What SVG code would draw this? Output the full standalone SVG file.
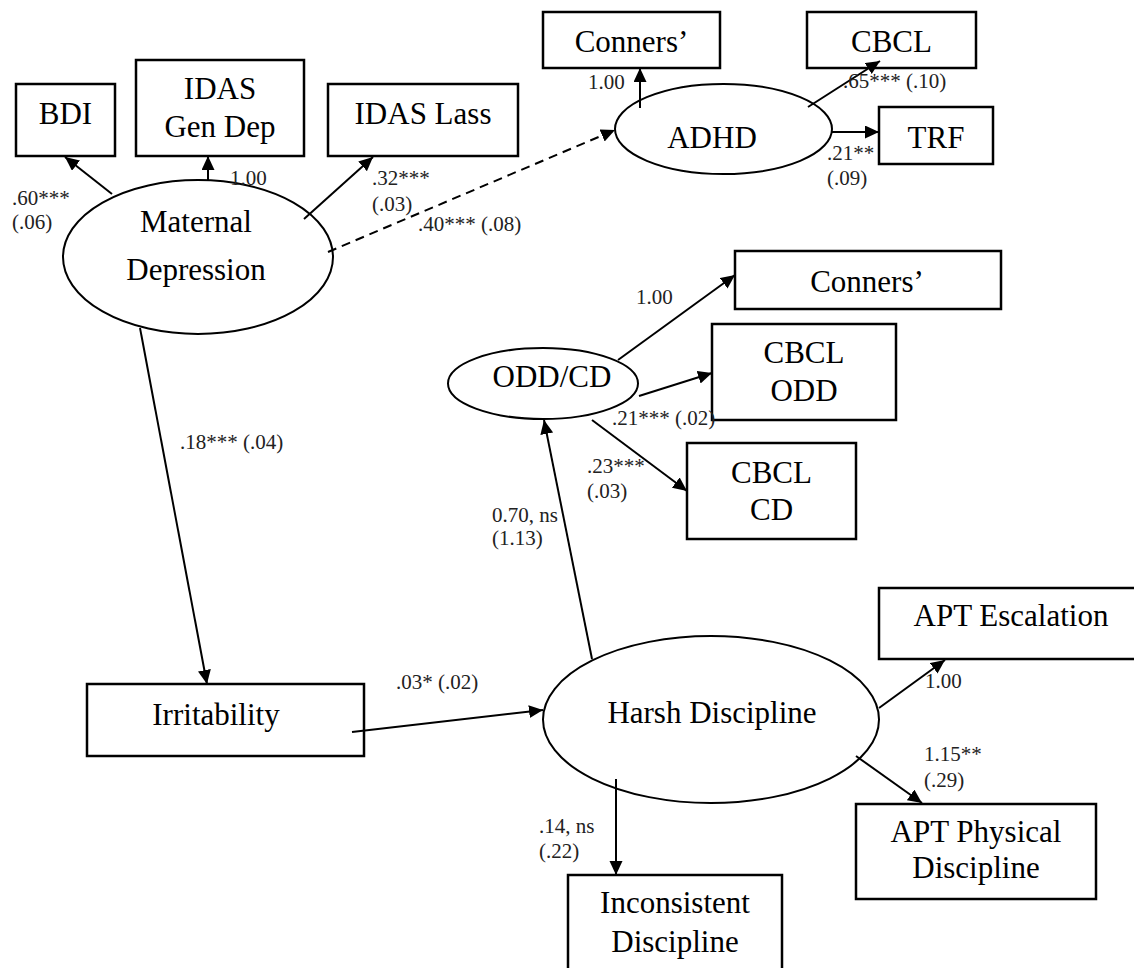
<svg xmlns="http://www.w3.org/2000/svg" width="1134" height="968" viewBox="0 0 1134 968">
  <style>
    .box { fill: #fff; stroke: #000; stroke-width: 2.5; }
    .lat { fill: none; stroke: #000; stroke-width: 2; }
    .name { font-family: "Liberation Serif", "Times New Roman", serif; font-size: 31px; fill: #000; text-anchor: middle; }
    .coef { font-family: "Liberation Serif", "Times New Roman", serif; font-size: 21px; fill: #222; }
    .path { stroke: #000; stroke-width: 2; fill: none; marker-end: url(#arrow); }
    .dashed { stroke-dasharray: 9 6; }
  </style>
  <defs>
    <marker id="arrow" markerUnits="userSpaceOnUse" markerWidth="15" markerHeight="14" refX="14" refY="6.5" orient="auto">
      <path d="M0,0 L14,6.5 L0,13 z" fill="#000"/>
    </marker>
  </defs>
  <rect width="1134" height="968" fill="#fff"/>

  <!-- indicator and observed variables -->
  <g id="bdi"><rect class="box" x="16" y="84" width="99" height="72"/><text class="name" x="65.5" y="124">BDI</text></g>
  <g id="idas-gen-dep"><rect class="box" x="136" y="60" width="168" height="96"/><text class="name" x="220" y="99">IDAS</text><text class="name" x="220" y="137">Gen Dep</text></g>
  <g id="idas-lass"><rect class="box" x="328" y="84" width="190" height="72"/><text class="name" x="423" y="124">IDAS Lass</text></g>
  <g id="conners-adhd"><rect class="box" x="543" y="12" width="177" height="56"/><text class="name" x="631.5" y="52">Conners’</text></g>
  <g id="cbcl-adhd"><rect class="box" x="807" y="12" width="169" height="56"/><text class="name" x="891.5" y="52">CBCL</text></g>
  <g id="trf"><rect class="box" x="879" y="107" width="114" height="57"/><text class="name" x="936" y="148">TRF</text></g>
  <g id="conners-odd"><rect class="box" x="735" y="251" width="266" height="58"/><text class="name" x="867" y="292">Conners’</text></g>
  <g id="cbcl-odd"><rect class="box" x="712" y="324" width="184" height="96"/><text class="name" x="804" y="363">CBCL</text><text class="name" x="804" y="401">ODD</text></g>
  <g id="cbcl-cd"><rect class="box" x="687" y="443" width="169" height="96"/><text class="name" x="771.5" y="483">CBCL</text><text class="name" x="771.5" y="520">CD</text></g>
  <g id="irritability"><rect class="box" x="87" y="684" width="277" height="72"/><text class="name" x="216" y="725">Irritability</text></g>
  <g id="apt-escalation"><rect class="box" x="879" y="588" width="264" height="71"/><text class="name" x="1011" y="626">APT Escalation</text></g>
  <g id="apt-physical"><rect class="box" x="856" y="804" width="240" height="95"/><text class="name" x="976" y="842">APT Physical</text><text class="name" x="976" y="878">Discipline</text></g>
  <g id="inconsistent"><rect class="box" x="568" y="875" width="214" height="100"/><text class="name" x="675" y="913">Inconsistent</text><text class="name" x="675" y="952">Discipline</text></g>

  <!-- latent factors -->
  <g id="maternal-depression"><ellipse class="lat" cx="198" cy="257" rx="135" ry="77"/><text class="name" x="196" y="232">Maternal</text><text class="name" x="196" y="280">Depression</text></g>
  <g id="adhd"><ellipse class="lat" cx="723.5" cy="129" rx="108.5" ry="45"/><text class="name" x="712" y="148">ADHD</text></g>
  <g id="odd-cd"><ellipse class="lat" cx="543" cy="383.5" rx="95" ry="35.5"/><text class="name" x="552" y="387">ODD/CD</text></g>
  <g id="harsh-discipline"><ellipse class="lat" cx="711" cy="719.5" rx="168" ry="83.5"/><text class="name" x="712" y="723">Harsh Discipline</text></g>

  <!-- paths -->
  <g id="connectors">
    <line class="path" x1="112" y1="194" x2="65" y2="157"/>
    <line class="path" x1="208" y1="180" x2="208" y2="156"/>
    <line class="path" x1="304" y1="219" x2="373" y2="157"/>
    <line class="path dashed" x1="328" y1="252" x2="615" y2="130"/>
    <line class="path" x1="640" y1="108" x2="640" y2="68"/>
    <line class="path" x1="808" y1="107" x2="880" y2="61"/>
    <line class="path" x1="832" y1="132" x2="879" y2="132"/>
    <line class="path" x1="140" y1="328" x2="207" y2="684"/>
    <line class="path" x1="352" y1="732" x2="543" y2="710"/>
    <line class="path" x1="592" y1="659" x2="544" y2="420"/>
    <line class="path" x1="618" y1="360" x2="735" y2="275"/>
    <line class="path" x1="639" y1="396" x2="712" y2="373"/>
    <line class="path" x1="592" y1="420" x2="687" y2="491"/>
    <line class="path" x1="879" y1="708" x2="945" y2="660"/>
    <line class="path" x1="856" y1="756" x2="922" y2="803"/>
    <line class="path" x1="616" y1="779" x2="616" y2="875"/>
  </g>

  <!-- path coefficients (SE) -->
  <g id="coefficients">
    <text class="coef" x="12" y="205">.60***</text>
    <text class="coef" x="12" y="229">(.06)</text>
    <text class="coef" x="230" y="185">1.00</text>
    <text class="coef" x="372" y="185">.32***</text>
    <text class="coef" x="372" y="211">(.03)</text>
    <text class="coef" x="418" y="231">.40*** (.08)</text>
    <text class="coef" x="588" y="89">1.00</text>
    <text class="coef" x="843" y="88">.65*** (.10)</text>
    <text class="coef" x="827" y="160">.21**</text>
    <text class="coef" x="827" y="185">(.09)</text>
    <text class="coef" x="636" y="304">1.00</text>
    <text class="coef" x="612" y="425">.21*** (.02)</text>
    <text class="coef" x="587" y="473">.23***</text>
    <text class="coef" x="587" y="498">(.03)</text>
    <text class="coef" x="180" y="449">.18*** (.04)</text>
    <text class="coef" x="492" y="522">0.70, ns</text>
    <text class="coef" x="492" y="545">(1.13)</text>
    <text class="coef" x="396" y="689">.03* (.02)</text>
    <text class="coef" x="925" y="688">1.00</text>
    <text class="coef" x="924" y="761">1.15**</text>
    <text class="coef" x="924" y="787">(.29)</text>
    <text class="coef" x="539" y="833">.14, ns</text>
    <text class="coef" x="539" y="858">(.22)</text>
  </g>
</svg>
